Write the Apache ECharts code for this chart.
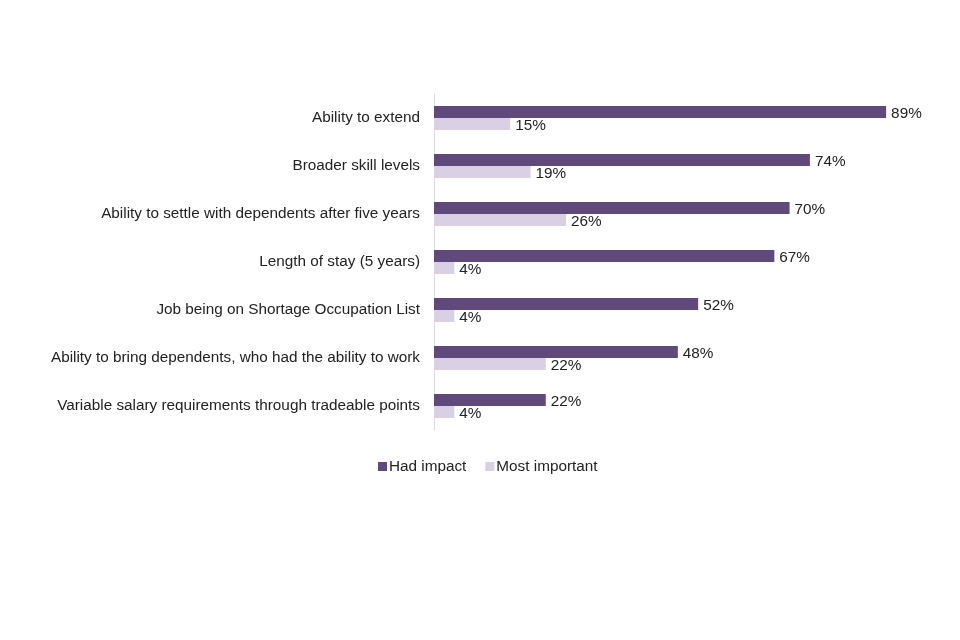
<!DOCTYPE html>
<html>
<head>
<meta charset="utf-8">
<script src="https://cdn.jsdelivr.net/npm/echarts@6/dist/echarts.min.js"></script>
<style>
html,body{margin:0;padding:0;background:#fff;}
#chart{width:960px;height:640px;}
</style>
</head>
<body>
<div id="chart"></div>
<script>
var categories = [
	'Ability to extend',
	'Broader skill levels',
	'Ability to settle with dependents after five years',
	'Length of stay (5 years)',
	'Job being on Shortage Occupation List',
	'Ability to bring dependents, who had the ability to work',
	'Variable salary requirements through tradeable points'
];
var hadImpact = [89, 74, 70, 67, 52, 48, 22];
var mostImportant = [15, 19, 26, 4, 4, 22, 4];

var font = "'Liberation Sans', Arial, sans-serif";
var dom = echarts.init(document.getElementById('chart'));
var labelStyle = {
	show: true,
	position: 'right',
	distance: 5,
	offset: [0, 2],
	formatter: '{c}%',
	color: '#222',
	fontFamily: font,
	fontSize: 15.3
};
var option = {
	animation: false,
	textStyle: {fontFamily: font},
	grid: {left: 434, right: 18, top: 94, bottom: 210, containLabel: false},
	legend: {
		data: ['Had impact', 'Most important'],
		top: 454,
		left: 373,
		itemWidth: 9,
		itemHeight: 9,
		itemGap: 19,
		icon: 'rect',
		textStyle: {color: '#222', fontFamily: font, fontSize: 15.3, padding: [0, 0, 0, -3]}
	},
	xAxis: {
		type: 'value',
		min: 0,
		max: 100,
		show: false
	},
	yAxis: {
		type: 'category',
		data: categories,
		inverse: true,
		axisLine: {show: true, lineStyle: {color: '#d9d9d9'}},
		axisTick: {show: false},
		axisLabel: {color: '#222', fontFamily: font, fontSize: 15.3, margin: 14}
	},
	series: [{
		name: 'Had impact',
		type: 'bar',
		data: hadImpact,
		barWidth: 12,
		barGap: '0%',
		itemStyle: {color: '#604a7b'},
		label: labelStyle
	}, {
		name: 'Most important',
		type: 'bar',
		data: mostImportant,
		barWidth: 12,
		itemStyle: {color: '#d9d0e3'},
		label: labelStyle
	}]
};
dom.setOption(option);
</script>
</body>
</html>
